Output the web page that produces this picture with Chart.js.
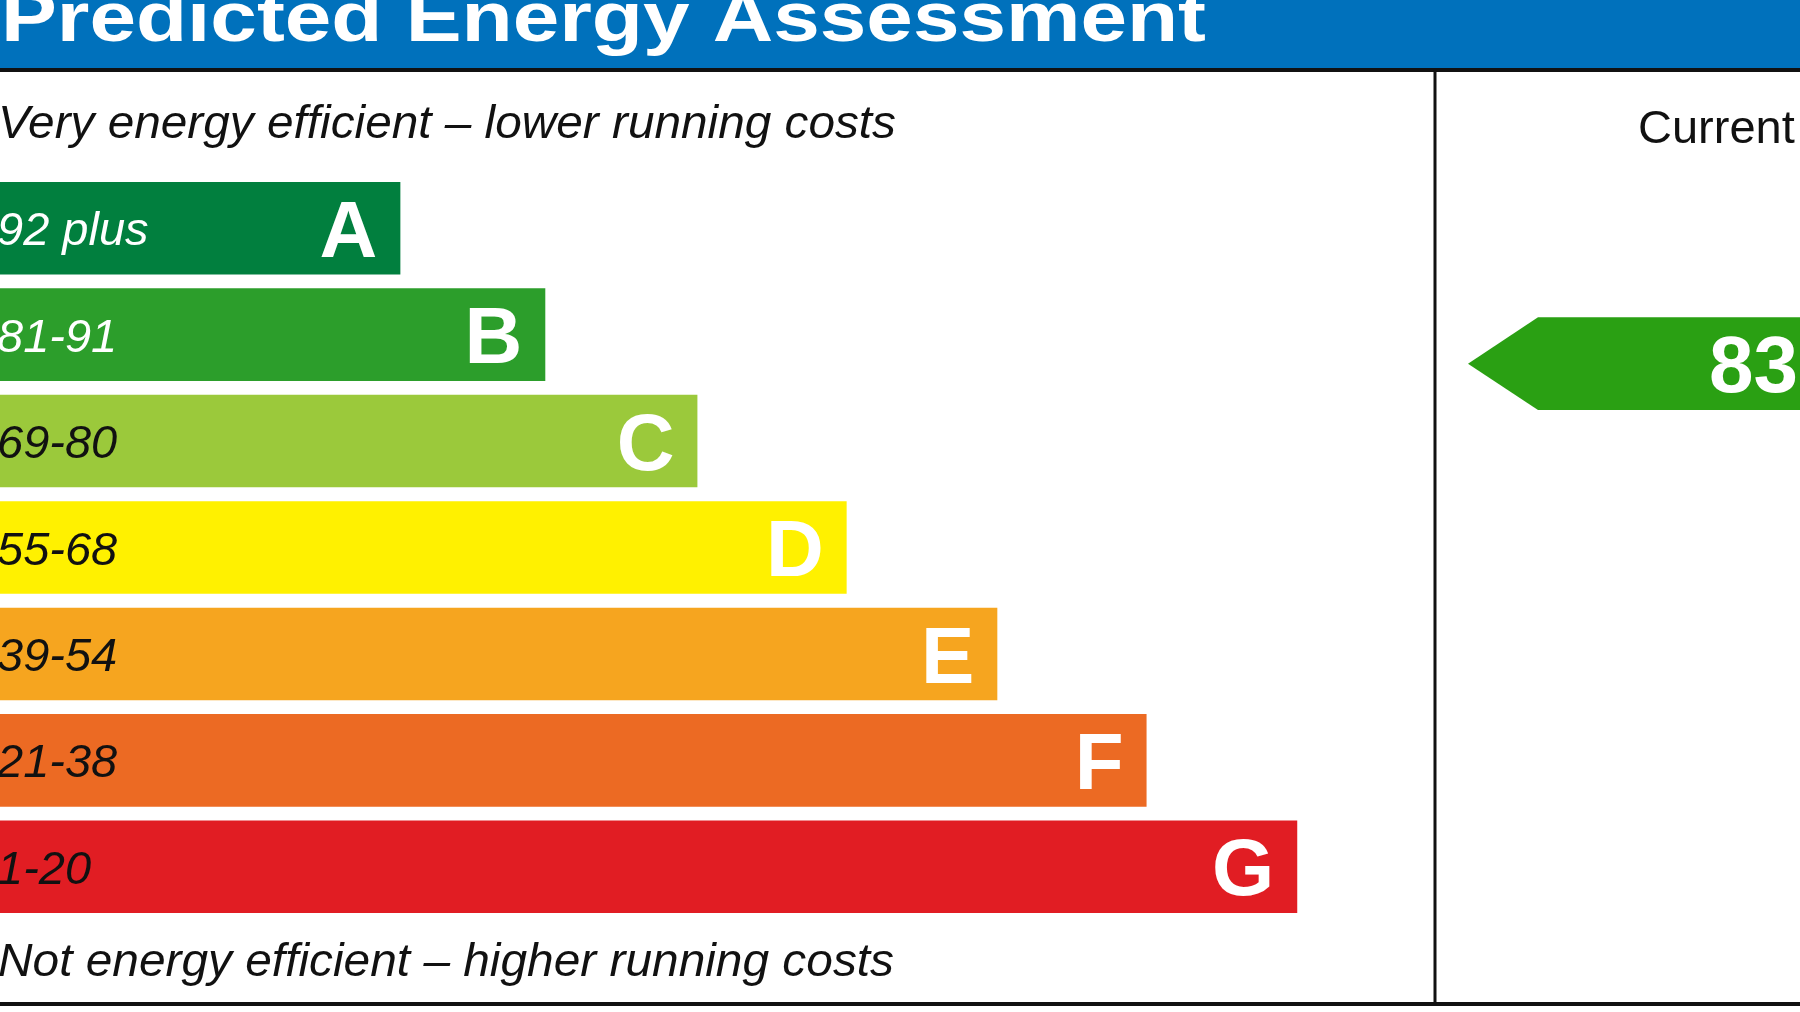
<!DOCTYPE html>
<html>
<head>
<meta charset="utf-8">
<title>Predicted Energy Assessment</title>
<script src="https://cdn.jsdelivr.net/npm/chart.js@4.4.1/dist/chart.umd.min.js"></script>
<style>
  html, body { margin: 0; padding: 0; background: #fff; overflow: hidden; }
  #epc { display: block; }
</style>
</head>
<body>
<canvas id="epc" width="1800" height="1012"></canvas>
<script>
// EPC bands, most efficient first
const bandLetters = ['A', 'B', 'C', 'D', 'E', 'F', 'G'];
const bandRanges = ['92 plus', '81-91', '69-80', '55-68', '39-54', '21-38', '1-20'];
const bandMin = [92, 81, 69, 55, 39, 21, 1];
const bandMax = [100, 91, 80, 68, 54, 38, 20];
// bar length as % of the left panel width
const bandLengths = [27.9, 38.0, 48.6, 59.0, 69.5, 79.9, 90.4];
const bandColors = ['#017f3e', '#2c9e2b', '#9bc93b', '#fff100', '#f6a51f', '#ec6a23', '#e11d23'];
const rangeTextColors = ['#ffffff', '#ffffff', '#111111', '#111111', '#111111', '#111111', '#111111'];

const currentRating = 83;
const currentColor = '#2aa013';

const FONT = '"Liberation Sans", Arial, Helvetica, sans-serif';

// draw text stretched horizontally to a given width
function fitText(ctx, text, x, y, font, width) {
    ctx.save();
    ctx.font = font;
    const w = ctx.measureText(text).width;
    ctx.translate(x, y);
    ctx.scale(width / w, 1);
    ctx.fillText(text, 0, 0);
    ctx.restore();
}

function bandIndexFor(rating) {
    return bandMin.findIndex((m, i) => rating >= m && rating <= bandMax[i]);
}

const epcDecor = {
    id: 'epcDecor',
    beforeDraw(chart) {
        const ctx = chart.ctx;
        const W = chart.width, H = chart.height;
        ctx.save();
        ctx.fillStyle = '#ffffff';
        ctx.fillRect(0, 0, W, H);

        // header band
        ctx.fillStyle = '#0071bc';
        ctx.fillRect(0, 0, W, 68);
        ctx.fillStyle = '#ffffff';
        ctx.textBaseline = 'alphabetic';
        ctx.textAlign = 'left';
        fitText(ctx, 'Predicted Energy Assessment', 1, 41, 'bold 70px ' + FONT, 1205);

        // frame lines
        ctx.fillStyle = '#111111';
        ctx.fillRect(0, 68, W, 4);
        ctx.fillRect(0, 1002, W, 4);
        const divX = chart.chartArea.right;
        ctx.fillRect(divX - 1.5, 70, 3, 934);
        ctx.restore();
    },
    afterDatasetsDraw(chart) {
        const ctx = chart.ctx;
        const meta = chart.getDatasetMeta(0);
        ctx.save();
        ctx.textBaseline = 'alphabetic';

        meta.data.forEach((bar, i) => {
            // range label
            ctx.font = 'italic 47px ' + FONT;
            ctx.textAlign = 'left';
            ctx.fillStyle = rangeTextColors[i];
            ctx.fillText(bandRanges[i], -3, bar.y + 17);
            // band letter
            ctx.font = 'bold 80px ' + FONT;
            ctx.textAlign = 'right';
            ctx.fillStyle = '#ffffff';
            ctx.fillText(bandLetters[i], bar.x - 23, bar.y + 28.6);
        });

        ctx.fillStyle = '#111111';
        ctx.textAlign = 'left';
        fitText(ctx, 'Very energy efficient \u2013 lower running costs', -2, 138, 'italic 46px ' + FONT, 898);
        fitText(ctx, 'Not energy efficient \u2013 higher running costs', -2, 976, 'italic 46px ' + FONT, 896);

        // current rating column
        const divX = chart.chartArea.right;
        ctx.font = '47px ' + FONT;
        ctx.fillText('Current', divX + 203, 143);

        const idx = bandIndexFor(currentRating);
        const pos = idx - 0.5 + (bandMax[idx] - currentRating + 0.5) / (bandMax[idx] - bandMin[idx] + 1);
        const yc = chart.scales.y.getPixelForValue(pos);
        const half = meta.data[idx].height / 2;
        const tipX = divX + 33;
        const bodyX = divX + 103;
        ctx.fillStyle = currentColor;
        ctx.beginPath();
        ctx.moveTo(tipX, yc);
        ctx.lineTo(bodyX, yc - half);
        ctx.lineTo(chart.width + 10, yc - half);
        ctx.lineTo(chart.width + 10, yc + half);
        ctx.lineTo(bodyX, yc + half);
        ctx.closePath();
        ctx.fill();
        ctx.fillStyle = '#ffffff';
        ctx.font = 'bold 80px ' + FONT;
        ctx.fillText(String(currentRating), divX + 274, yc + 28.6);
        ctx.restore();
    }
};

new Chart(document.getElementById('epc').getContext('2d'), {
    type: 'bar',
    data: {
        labels: bandLetters,
        datasets: [{
            data: bandLengths,
            backgroundColor: bandColors,
            borderWidth: 0,
            barPercentage: 0.87,
            categoryPercentage: 1
        }]
    },
    options: {
        indexAxis: 'y',
        responsive: false,
        animation: false,
        layout: { padding: { left: 0, right: 365, top: 175, bottom: 92 } },
        plugins: {
            legend: { display: false },
            tooltip: { enabled: false }
        },
        scales: {
            x: { display: false, min: 0, max: 100 },
            y: { display: false }
        }
    },
    plugins: [epcDecor]
});
</script>
</body>
</html>
